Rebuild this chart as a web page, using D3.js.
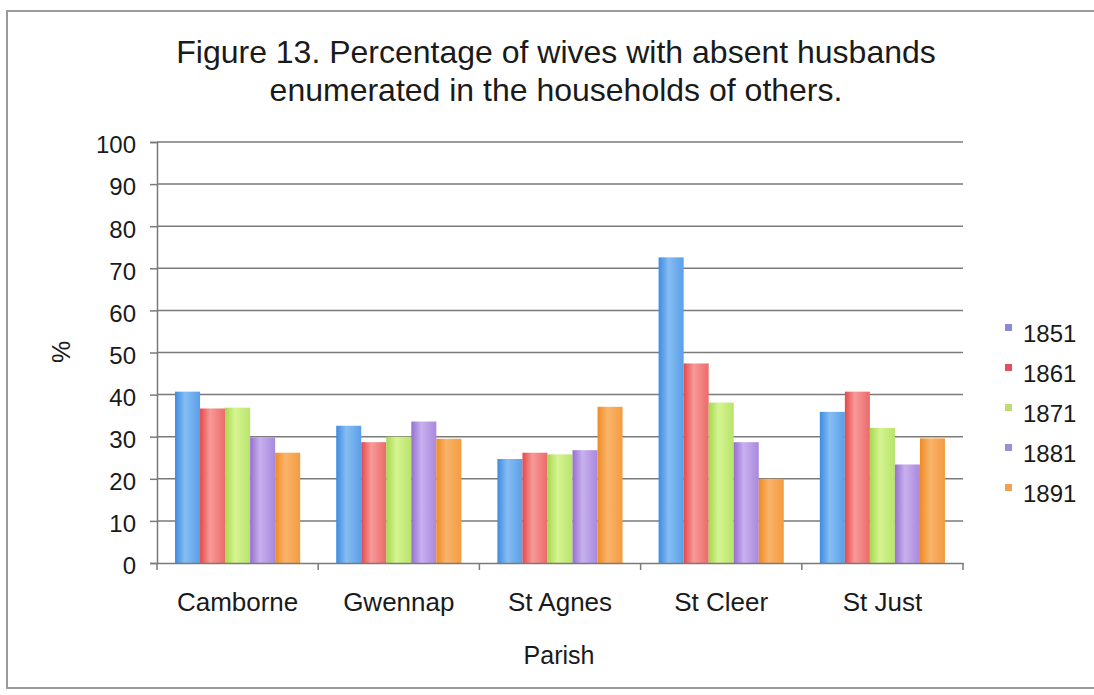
<!DOCTYPE html>
<html>
<head>
<meta charset="utf-8">
<script src="https://cdn.jsdelivr.net/npm/d3@7"></script>
<style>
  html, body { margin: 0; padding: 0; background: #fff; }
  svg { display: block; }
  text { font-family: "Liberation Sans", Arial, Helvetica, sans-serif; fill: #1a1a1a; }
</style>
</head>
<body>
<svg id="chart" width="1094" height="695"></svg>
<script>
const titleLines = ["Figure 13. Percentage of wives with absent husbands", "enumerated in the households of others."];
const categories = ["Camborne", "Gwennap", "St Agnes", "St Cleer", "St Just"];
const years = ["1851", "1861", "1871", "1881", "1891"];
const v1851 = [40.7, 32.6, 24.7, 72.6, 35.9];
const v1861 = [36.7, 28.7, 26.2, 47.4, 40.7];
const v1871 = [36.9, 30.0, 25.8, 38.1, 32.1];
const v1881 = [29.8, 33.6, 26.8, 28.7, 23.4];
const v1891 = [26.2, 29.5, 37.1, 20.0, 29.6];
const yTicks = [0, 10, 20, 30, 40, 50, 60, 70, 80, 90, 100];
const yLabel = "%";
const xLabel = "Parish";

const seriesValues = [v1851, v1861, v1871, v1881, v1891];
const colors = [
  ["#3d8be0", "#86bdf3", "#5a9fe8"],
  ["#e4484a", "#f69a98", "#ec6a6a"],
  ["#a6d84e", "#d6f492", "#b8e46a"],
  ["#9670cf", "#c8b0ee", "#a888dc"],
  ["#f08a22", "#f9b46a", "#f49c40"]
];
const legendColors = ["#8c88d8", "#e05060", "#c0dc70", "#9890d8", "#f0a050"];

const svg = d3.select("#chart");
const defs = svg.append("defs");
colors.forEach((c, i) => {
  const g = defs.append("linearGradient").attr("id", "grad" + i)
    .attr("x1", "0%").attr("x2", "100%").attr("y1", "0%").attr("y2", "0%");
  g.append("stop").attr("offset", "0%").attr("stop-color", c[0]);
  g.append("stop").attr("offset", "40%").attr("stop-color", c[1]);
  g.append("stop").attr("offset", "100%").attr("stop-color", c[2]);
});

// outer frame
svg.append("rect").attr("x", 7).attr("y", 11).attr("width", 1100).attr("height", 677)
  .attr("fill", "#fff").attr("stroke", "#9a9a9a").attr("stroke-width", 2);

const plotLeft = 157, plotRight = 963, plotTop = 142, plotBottom = 563;
const x0 = d3.scaleBand().domain(categories).range([plotLeft, plotRight]).paddingInner(0).paddingOuter(0);
const x1 = d3.scaleBand().domain(years).range([0, x0.bandwidth()]).paddingInner(0).paddingOuter(0.72);
const y = d3.scaleLinear().domain([0, 100]).range([plotBottom, plotTop]);

// gridlines
svg.append("g").selectAll("line").data(yTicks.filter(t => t > 0)).join("line")
  .attr("x1", plotLeft).attr("x2", plotRight)
  .attr("y1", d => y(d)).attr("y2", d => y(d))
  .attr("stroke", "#7a7a7a").attr("stroke-width", 1.5);

// bars
const gBars = svg.append("g");
categories.forEach((cat, ci) => {
  years.forEach((yr, si) => {
    const v = seriesValues[si][ci];
    gBars.append("rect")
      .attr("x", x0(cat) + x1(yr))
      .attr("y", y(v))
      .attr("width", x1.bandwidth())
      .attr("height", y(0) - y(v))
      .attr("fill", "url(#grad" + si + ")");
  });
});

// y axis
const yAxis = d3.axisLeft(y).tickValues(yTicks).tickSize(7).tickPadding(14);
const gy = svg.append("g").attr("transform", `translate(${plotLeft},0)`).call(yAxis);
gy.select(".domain").attr("stroke", "#7a7a7a").attr("stroke-width", 1.5);
gy.selectAll(".tick line").attr("stroke", "#7a7a7a").attr("stroke-width", 1.5);
gy.selectAll(".tick text").attr("font-size", 24).attr("fill", "#1a1a1a")
  .attr("font-family", "'Liberation Sans', Arial, sans-serif").attr("dy", "0.45em");

// x axis
const xAxis = d3.axisBottom(x0).tickSize(0).tickPadding(30);
const gx = svg.append("g").attr("transform", `translate(0,${plotBottom})`).call(xAxis);
gx.select(".domain").attr("stroke", "#7a7a7a").attr("stroke-width", 1.5);
gx.selectAll(".tick text").attr("font-size", 26).attr("fill", "#1a1a1a")
  .attr("font-family", "'Liberation Sans', Arial, sans-serif");
// boundary ticks
svg.append("g").selectAll("line")
  .data(categories.map(c => x0(c)).concat([x0(categories[categories.length - 1]) + x0.bandwidth()]))
  .join("line")
  .attr("x1", d => d).attr("x2", d => d).attr("y1", plotBottom).attr("y2", plotBottom + 7)
  .attr("stroke", "#7a7a7a").attr("stroke-width", 1.5);

// title
svg.append("g").selectAll("text").data(titleLines).join("text")
  .attr("x", 556).attr("y", (d, i) => 63 + i * 38)
  .attr("text-anchor", "middle").attr("font-size", 32).text(d => d);

// axis titles
svg.append("text").attr("transform", "translate(70,352) rotate(-90)")
  .attr("text-anchor", "middle").attr("font-size", 25).text(yLabel);
svg.append("text").attr("x", 559).attr("y", 664)
  .attr("text-anchor", "middle").attr("font-size", 25).text(xLabel);

// legend
const lg = svg.append("g").selectAll("g").data(years).join("g")
  .attr("transform", (d, i) => `translate(1005,${333 + i * 40})`);
lg.append("rect").attr("x", 0).attr("y", -9).attr("width", 7).attr("height", 7)
  .attr("fill", (d, i) => legendColors[i]);
lg.append("text").attr("x", 18).attr("y", 9).attr("font-size", 24).text(d => d);
</script>
</body>
</html>
